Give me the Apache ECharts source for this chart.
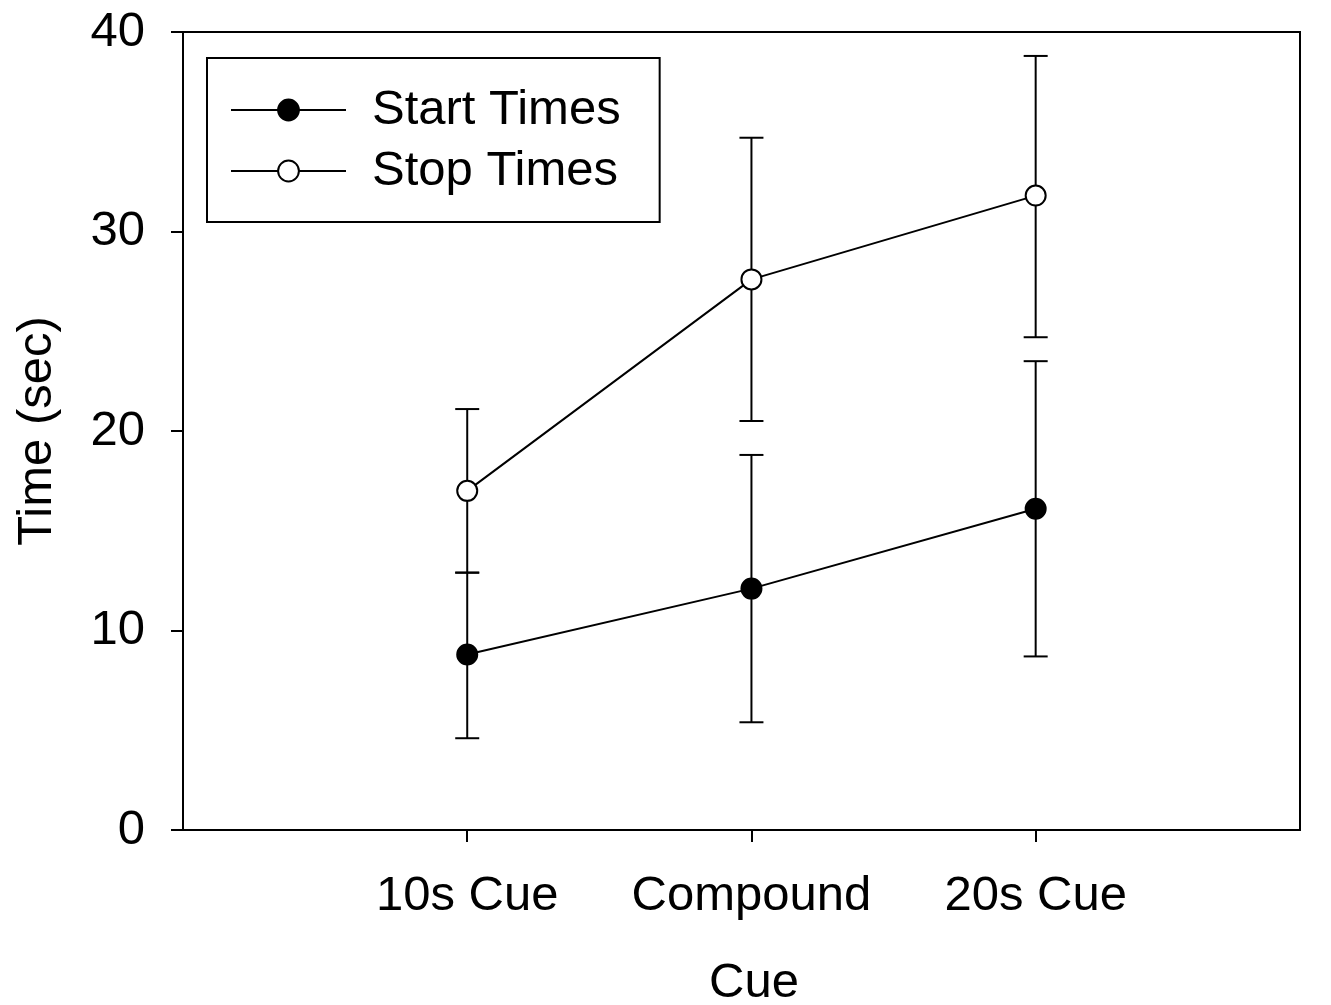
<!DOCTYPE html>
<html lang="en">
<head>
    <meta charset="UTF-8">
    <title>Cue times</title>
    <script src="https://cdn.jsdelivr.net/npm/echarts@6/dist/echarts.min.js"></script>
    <style>
        html, body { margin: 0; padding: 0; background: #fff; }
        #chart { width: 1331px; height: 1005px; }
    </style>
</head>
<body>
<div id="chart"></div>

<script>
    // data
    var cues = ['10s Cue', 'Compound', '20s Cue'];
    var cuePos = [1, 2, 3];
    var startMean = [8.8, 12.1, 16.1];
    var startLow = [4.6, 5.4, 8.7];
    var startHigh = [12.9, 18.8, 23.5];
    var stopMean = [17.0, 27.6, 31.8];
    var stopLow = [12.9, 20.5, 24.7];
    var stopHigh = [21.1, 34.7, 38.8];
    var yTicks = [0, 10, 20, 30, 40];

    var font = '"Liberation Sans", Arial, sans-serif';

    function pairs(ys) {
        return cuePos.map(function (x, i) { return [x, ys[i]]; });
    }
    function bars(lo, hi) {
        return cuePos.map(function (x, i) { return [x, lo[i], hi[i]]; });
    }

    // error bar with caps
    function renderErr(params, api) {
        var x = api.value(0);
        var p1 = api.coord([x, api.value(1)]);
        var p2 = api.coord([x, api.value(2)]);
        var w = 12;
        var st = { stroke: '#000', lineWidth: 2 };
        return {
            type: 'group',
            children: [
                { type: 'line', shape: { x1: p1[0], y1: p1[1], x2: p2[0], y2: p2[1] }, style: st },
                { type: 'line', shape: { x1: p1[0] - w, y1: p1[1], x2: p1[0] + w, y2: p1[1] }, style: st },
                { type: 'line', shape: { x1: p2[0] - w, y1: p2[1], x2: p2[0] + w, y2: p2[1] }, style: st }
            ]
        };
    }

    var chart = echarts.init(document.getElementById('chart'));

    var option = {
        backgroundColor: '#fff',
        animation: false,
        grid: {
            left: 183, right: 31, top: 32, bottom: 175,
            outerBoundsMode: 'none',
            show: true, borderColor: '#000', borderWidth: 2
        },
        legend: {
            orient: 'vertical',
            left: 207, top: 58,
            data: ['Start Times', 'Stop Times'],
            itemWidth: 115, itemHeight: 26, itemGap: 5,
            padding: [24, 39, 23, 23],
            borderColor: '#000', borderWidth: 2,
            textStyle: { fontFamily: font, fontSize: 49, color: '#000', lineHeight: 56, padding: [0, 0, 0, 21] }
        },
        xAxis: {
            type: 'value',
            min: 0, max: 3.93, interval: 1,
            name: 'Cue',
            nameLocation: 'middle',
            nameGap: 129,
            nameTextStyle: { fontFamily: font, fontSize: 49, color: '#000', padding: [0, 0, 0, 25] },
            splitLine: { show: false },
            axisLine: { lineStyle: { color: '#000', width: 2 } },
            axisTick: { customValues: cuePos, length: 12, lineStyle: { color: '#000', width: 2 } },
            axisLabel: {
                customValues: cuePos,
                fontFamily: font, fontSize: 49, color: '#000', margin: 42,
                formatter: function (v) { return cues[cuePos.indexOf(Math.round(v))] || ''; }
            }
        },
        yAxis: {
            type: 'value',
            min: 0, max: 40, interval: 10,
            name: 'Time (sec)',
            nameLocation: 'middle',
            nameGap: 121,
            nameTextStyle: { fontFamily: font, fontSize: 49, color: '#000' },
            splitLine: { show: false },
            axisLine: { lineStyle: { color: '#000', width: 2 } },
            axisTick: { length: 12, lineStyle: { color: '#000', width: 2 } },
            axisLabel: {
                customValues: yTicks,
                fontFamily: font, fontSize: 49, color: '#000', margin: 38
            }
        },
        series: [
            {
                type: 'custom',
                renderItem: renderErr,
                data: bars(startLow, startHigh),
                z: 1, silent: true
            },
            {
                type: 'custom',
                renderItem: renderErr,
                data: bars(stopLow, stopHigh),
                z: 1, silent: true
            },
            {
                name: 'Start Times',
                type: 'line',
                data: pairs(startMean),
                symbol: 'circle', symbolSize: 20,
                lineStyle: { color: '#000', width: 2 },
                itemStyle: { color: '#000', borderColor: '#000', borderWidth: 2 },
                z: 3
            },
            {
                name: 'Stop Times',
                type: 'line',
                data: pairs(stopMean),
                symbol: 'circle', symbolSize: 20,
                lineStyle: { color: '#000', width: 2 },
                itemStyle: { color: '#fff', borderColor: '#000', borderWidth: 2 },
                z: 3
            }
        ]
    };

    chart.setOption(option);
</script>
</body>
</html>
